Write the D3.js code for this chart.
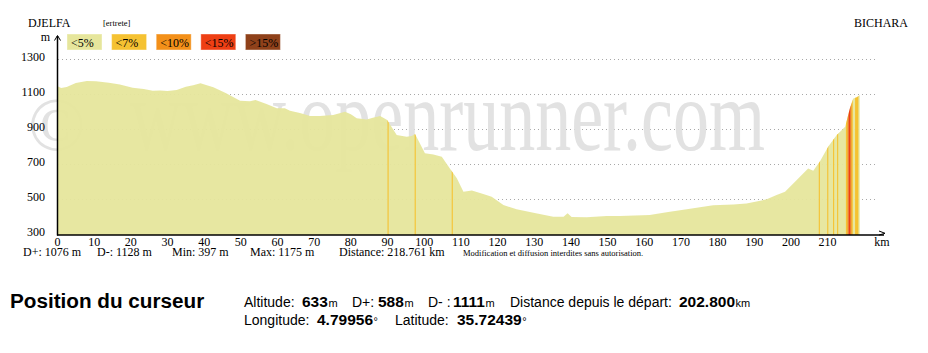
<!DOCTYPE html>
<html>
<head>
<meta charset="utf-8">
<script src="https://cdn.jsdelivr.net/npm/d3@7"></script>
<style>
body { margin: 0; background: #fff; }
svg { display: block; }
</style>
</head>
<body>
<div id="chart"></div>
<script>

// profile samples
const distKm = [0, 1, 2.5, 5, 8, 10.5, 14, 17, 20.5, 23.5, 26, 28, 30, 32.5, 35, 37, 39, 40.5, 42.5, 46,
  49.8, 52.5, 54, 57, 59.8, 62, 63.4, 66.1, 68.9, 71.6, 75.2, 78.4, 80, 81.6, 84.3, 86, 88, 89.9, 92.5, 95.2,
  96.6, 97.5, 100.2, 102.5, 104.8, 107, 108.9, 110.7, 113, 116.1, 118.4, 121.6, 125.2, 129.8, 135.2, 138, 139.1, 140.2, 144.3, 149.8,
  153.4, 161.5, 166.1, 171.6, 174.3, 178.8, 184.3, 187.9, 193.4, 196.1, 198.4, 201.6, 204.7, 206.1, 207.9, 210.2, 212.5, 214.8, 216.1, 217,
  218, 218.761];
const altitude = [1145, 1135, 1140, 1163, 1174, 1173, 1165, 1155, 1136, 1129, 1118, 1120, 1117, 1123, 1142, 1150, 1162, 1152, 1138, 1104,
  1062, 1058, 1066, 1043, 1018, 1019, 1005, 991, 974, 974, 980, 999, 985, 961, 955, 965, 974, 951, 866, 856,
  860, 871, 761, 755, 742, 675, 618, 542, 548, 529, 513, 466, 441, 422, 399, 399, 418, 397, 396, 403,
  403, 409, 424, 441, 450, 464, 468, 475, 498, 523, 542, 609, 675, 662, 715, 800, 866, 913, 1018, 1075,
  1081, 1095];

// steep parts: [from km, to km, slope class]
const steepSegments = [
  [90.0, 90.3, 1], [97.4, 97.7, 1], [107.5, 107.8, 1],
  [207.6, 207.9, 1], [209.9, 210.2, 1], [211.5, 211.8, 1], [212.6, 212.9, 1],
  [215.0, 215.4, 1], [215.4, 215.7, 2], [215.7, 216.3, 3], [216.3, 216.6, 2], [216.6, 216.8, 1],
  [217.5, 218.4, 1]
];

const slopeLabels = ["<5%", "<7%", "<10%", "<15%", ">15%"];
const slopeColors = ["#e6e69c", "#f5c232", "#f39019", "#ee3f14", "#8f411a"];

const yTicks = [300, 500, 700, 900, 1100, 1300];
const xTicks = [0, 10, 20, 30, 40, 50, 60, 70, 80, 90, 100, 110, 120, 130, 140, 150, 160, 170, 180, 190, 200, 210];

const stats = ["D+: 1076 m", "D-: 1128 m", "Min: 397 m", "Max: 1175 m", "Distance: 218.761 km"];
const statX = [23, 97, 172, 250, 339];

const cursorRow1 = [["Altitude:", "633", "m"], ["D+:", "588", "m"], ["D- :", "1111", "m"], ["Distance depuis le départ:", "202.800", "km"]];
const cursorRow2 = [["Longitude:", "4.79956", "°"], ["Latitude:", "35.72439", "°"]];

const width = 928, height = 353;
const serif = "'Liberation Serif', 'Times New Roman', serif";
const sans = "'Liberation Sans', Arial, sans-serif";

const svg = d3.select("#chart").append("svg")
  .attr("width", width)
  .attr("height", height);

const x = d3.scaleLinear().domain([0, 210]).range([57.5, 57.5 + 210 * 3.667]);
const y = d3.scaleLinear().domain([300, 1300]).range([234, 59]);

const profile = distKm.map((d, i) => ({ km: d, alt: altitude[i] }));

// titles
svg.append("text").attr("x", 28).attr("y", 27)
  .style("font-family", serif).style("font-size", "12px").text("DJELFA");
svg.append("text").attr("x", 103).attr("y", 26)
  .style("font-family", serif).style("font-size", "8.5px").text("[ertrete]");
svg.append("text").attr("x", 908).attr("y", 27).attr("text-anchor", "end")
  .style("font-family", serif).style("font-size", "12px").text("BICHARA");

// legend
const legend = svg.append("g").selectAll("g")
  .data(slopeLabels)
  .enter().append("g")
  .attr("transform", (d, i) => "translate(" + (67 + i * 44.6) + ",34)");

legend.append("rect")
  .attr("width", 35)
  .attr("height", 16)
  .style("fill", (d, i) => slopeColors[i])
  .style("stroke", "#fff")
  .style("stroke-opacity", 0.4);

legend.append("text")
  .attr("x", 4)
  .attr("y", 12.5)
  .style("font-family", serif)
  .style("font-size", "12px")
  .text(d => d);

// grid
svg.append("g").selectAll("line")
  .data(yTicks.filter(d => d > 300))
  .enter().append("line")
  .attr("x1", 58).attr("x2", 876)
  .attr("y1", d => Math.round(y(d)) + 0.5).attr("y2", d => Math.round(y(d)) + 0.5)
  .style("stroke", "#a8a8a8")
  .style("stroke-width", 1)
  .style("stroke-dasharray", "1,3");

// watermark (the site text is stretched vertically)
const mark = svg.append("g").style("fill", "#e2e2e2").style("font-family", serif);
mark.append("text")
  .attr("x", 28).attr("y", 150)
  .style("font-size", "76px")
  .text("©");
mark.append("text")
  .attr("transform", "translate(130,150) scale(1,1.42)")
  .style("font-size", "72px")
  .text("www.openrunner.com");

// profile area
const area = d3.area()
  .x(d => x(d.km))
  .y0(y(300) + 1)
  .y1(d => y(d.alt));

svg.append("clipPath").attr("id", "profileClip")
  .append("path").datum(profile).attr("d", area);

svg.append("path")
  .datum(profile)
  .attr("d", area)
  .style("fill", slopeColors[0])
  .style("fill-opacity", 0.95);

svg.append("g").attr("clip-path", "url(#profileClip)")
  .selectAll("rect")
  .data(steepSegments)
  .enter().append("rect")
  .attr("x", d => x(d[0]))
  .attr("width", d => Math.max(1, x(d[1]) - x(d[0])))
  .attr("y", 50)
  .attr("height", 190)
  .style("fill", d => slopeColors[d[2]]);

// axes
svg.append("line")
  .attr("x1", 57.5).attr("x2", 57.5).attr("y1", 36).attr("y2", 235.5)
  .style("stroke", "#000").style("stroke-width", 1.5);
svg.append("path")
  .attr("d", "M54.5,40.5L57.5,35.5L60.5,40.5")
  .style("fill", "none").style("stroke", "#000");
svg.append("line")
  .attr("x1", 57).attr("x2", 884).attr("y1", 235).attr("y2", 235)
  .style("stroke", "#000").style("stroke-width", 1.5);
svg.append("path")
  .attr("d", "M879,231L885,233.3L879,235")
  .style("fill", "none").style("stroke", "#000");

svg.append("text").attr("x", 50).attr("y", 41).attr("text-anchor", "end")
  .style("font-family", serif).style("font-size", "12px").text("m");
svg.append("text").attr("x", 882).attr("y", 246).attr("text-anchor", "middle")
  .style("font-family", serif).style("font-size", "12px").text("km");

svg.append("g").selectAll("text")
  .data(yTicks)
  .enter().append("text")
  .attr("x", 45)
  .attr("y", d => y(d) + 1.5)
  .attr("text-anchor", "end")
  .style("font-family", serif)
  .style("font-size", "12px")
  .text(d => d);

svg.append("g").selectAll("text")
  .data(xTicks)
  .enter().append("text")
  .attr("x", d => x(d))
  .attr("y", 246)
  .attr("text-anchor", "middle")
  .style("font-family", serif)
  .style("font-size", "12px")
  .text(d => d);

// stats under the chart
svg.append("g").selectAll("text")
  .data(stats)
  .enter().append("text")
  .attr("x", (d, i) => statX[i])
  .attr("y", 256)
  .style("font-family", serif)
  .style("font-size", "12px")
  .text(d => d);

svg.append("text").attr("x", 463).attr("y", 256)
  .style("font-family", serif).style("font-size", "8.5px")
  .text("Modification et diffusion interdites sans autorisation.");

// cursor block
svg.append("text").attr("x", 10).attr("y", 308)
  .style("font-family", sans).style("font-size", "20.7px").style("font-weight", "bold")
  .text("Position du curseur");

function cursorLine(parts, labelX, valueX, yPos) {
  parts.forEach((p, i) => {
    svg.append("text").attr("x", labelX[i]).attr("y", yPos)
      .style("font-family", sans).style("font-size", "14px")
      .text(p[0]);
    const t = svg.append("text").attr("x", valueX[i]).attr("y", yPos)
      .style("font-family", sans);
    t.append("tspan").style("font-size", "15.5px").style("font-weight", "bold").text(p[1]);
    t.append("tspan").style("font-size", "11px").attr("dx", 0.5).text(p[2]);
  });
}
cursorLine(cursorRow1, [244, 352, 428, 510], [302, 378, 453, 679], 307);
cursorLine(cursorRow2, [244, 395], [317, 457], 325);

</script>
</body>
</html>
